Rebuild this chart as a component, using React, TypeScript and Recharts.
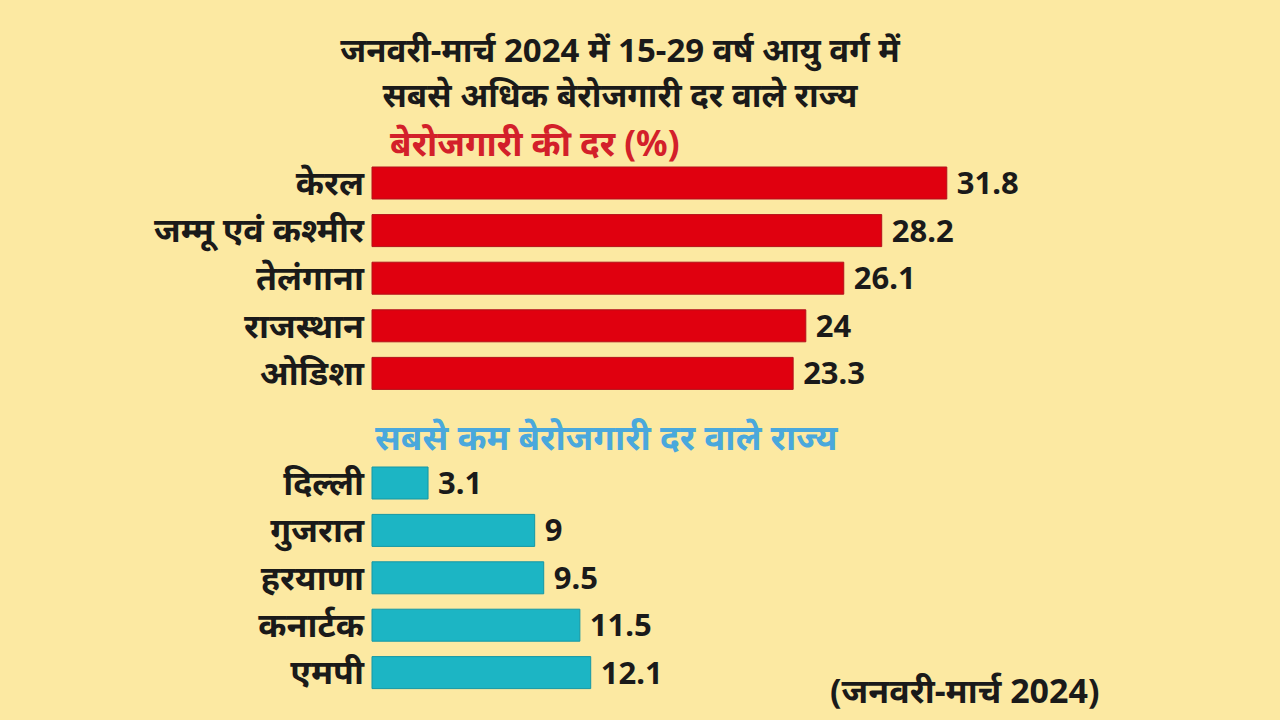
import { BarChart, Bar, XAxis, YAxis, LabelList } from 'recharts';

// Highest unemployment rate (15-29 age group), Jan-Mar 2024
const highStates = ['केरल', 'जम्मू एवं कश्मीर', 'तेलंगाना', 'राजस्थान', 'ओडिशा'];
const highRates = [31.8, 28.2, 26.1, 24, 23.3];

// Lowest unemployment rate
const lowStates = ['दिल्ली', 'गुजरात', 'हरयाणा', 'कनार्टक', 'एमपी'];
const lowRates = [3.1, 9, 9.5, 11.5, 12.1];

const titleLines = ['जनवरी-मार्च 2024 में 15-29 वर्ष आयु वर्ग में', 'सबसे अधिक बेरोजगारी दर वाले राज्य'];
const highHeading = 'बेरोजगारी की दर (%)';
const lowHeading = 'सबसे कम बेरोजगारी दर वाले राज्य';
const footNote = '(जनवरी-मार्च 2024)';

const FONT = '"Noto Sans", "Noto Sans Devanagari", Lato, sans-serif';
const BG = '#fce9a2';

const highData = highStates.map((state, i) => ({ state, rate: highRates[i] }));
const lowData = lowStates.map((state, i) => ({ state, rate: lowRates[i] }));

const StateBars = ({ data, color, edge, height, top, bottom }: any) => (
  <BarChart
    layout="vertical"
    width={1280}
    height={height}
    data={data}
    margin={{ top, right: 185, left: 0, bottom }}
  >
    <XAxis type="number" domain={[0, 40]} hide />
    <YAxis
      type="category"
      dataKey="state"
      width={372}
      interval={0}
      tickLine={false}
      axisLine={false}
      tick={{ fill: '#1a1a1a', fontSize: 34, fontWeight: 700, fontFamily: FONT }}
    />
    <Bar dataKey="rate" fill={color} stroke={edge} strokeWidth={1} barSize={32} isAnimationActive={false}>
      <LabelList
        dataKey="rate"
        position="right"
        offset={10}
        style={{ fill: '#1a1a1a', fontSize: 31, fontWeight: 700, fontFamily: FONT }}
      />
    </Bar>
  </BarChart>
);

const App = () => {
  const text = (extra: any) => ({
    position: 'absolute' as const,
    fontFamily: FONT,
    fontWeight: 700,
    whiteSpace: 'nowrap' as const,
    ...extra,
  });
  return (
    <div style={{ position: 'fixed', left: 0, top: 0, width: 1280, height: 720, background: BG, overflow: 'hidden' }}>
      <div style={text({ left: 0, width: 1240, top: 27, fontSize: 33, color: '#1a1a1a', textAlign: 'center', lineHeight: '45px' })}>
        {titleLines.map((l) => (
          <div key={l}>{l}</div>
        ))}
      </div>
      <div style={text({ left: 390, top: 123, fontSize: 35, lineHeight: '40px', color: '#d3202a' })}>{highHeading}</div>
      <div style={text({ left: 375, top: 417, fontSize: 35, lineHeight: '40px', color: '#4aa8dc' })}>{lowHeading}</div>
      <div style={text({ left: 830, top: 670, fontSize: 34, lineHeight: '40px', color: '#1a1a1a' })}>{footNote}</div>
      <div style={{ position: 'absolute', left: 0, top: 0 }}>
        <StateBars data={highData} color="#e0000f" edge="#b3101a" height={420} top={159} bottom={23} />
      </div>
      <div style={{ position: 'absolute', left: 0, top: 420 }}>
        <StateBars data={lowData} color="#1cb5c4" edge="#1497a5" height={300} top={39} bottom={24} />
      </div>
    </div>
  );
};

export default App;
